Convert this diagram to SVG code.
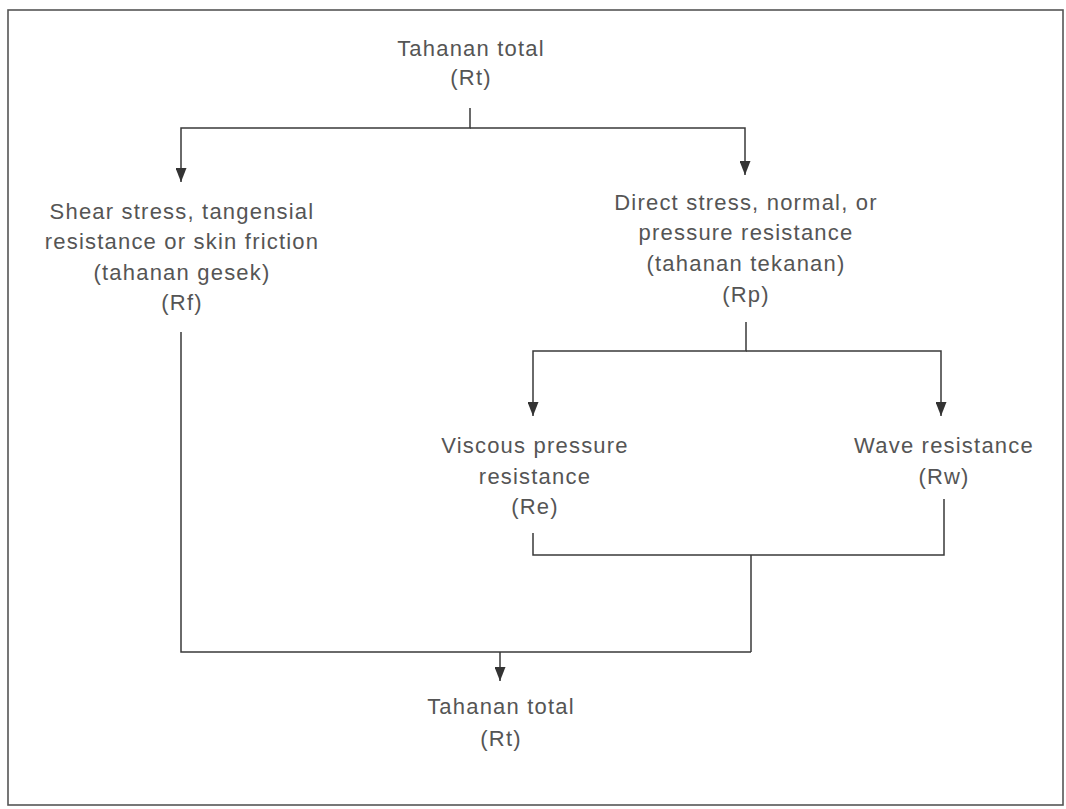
<svg xmlns="http://www.w3.org/2000/svg" width="1066" height="809" viewBox="0 0 1066 809">
<style>
  .t { font-family: "Liberation Sans", Arial, sans-serif; font-size: 22px; fill: #555; text-anchor: middle; letter-spacing: 1.2px; }
  .c { fill: none; stroke: #3a3a3a; stroke-width: 1.5; }
  .frame { fill: #fff; stroke: #555; stroke-width: 1.6; }
</style>
<defs>
  <marker id="arr" viewBox="0 0 14 11" refX="14" refY="5.5" markerWidth="14" markerHeight="11" markerUnits="userSpaceOnUse" orient="auto">
    <path d="M0,0 L14,5.5 L0,11 z" fill="#333"/>
  </marker>
</defs>
<rect class="frame" x="8" y="10" width="1055" height="795"/>
<g id="connectors">
  <path class="c" d="M470,108 V128 H181 V182" marker-end="url(#arr)"/>
  <path class="c" d="M470,128 H745 V175" marker-end="url(#arr)"/>
  <path class="c" d="M746,322 V351 H533 V416" marker-end="url(#arr)"/>
  <path class="c" d="M746,351 H941 V416" marker-end="url(#arr)"/>
  <path class="c" d="M533,533 V555 H944 V499"/>
  <path class="c" d="M751,555 V652"/>
  <path class="c" d="M181,332 V652 H751"/>
  <path class="c" d="M500,652 V681" marker-end="url(#arr)"/>
</g>
<g id="n-rt-top">
  <text class="t" x="471" y="56">Tahanan total</text>
  <text class="t" x="471" y="85">(Rt)</text>
</g>
<g id="n-rf">
  <text class="t" x="182" y="219">Shear stress, tangensial</text>
  <text class="t" x="182" y="249">resistance or skin friction</text>
  <text class="t" x="182" y="280">(tahanan gesek)</text>
  <text class="t" x="182" y="310">(Rf)</text>
</g>
<g id="n-rp">
  <text class="t" x="746" y="210">Direct stress, normal, or</text>
  <text class="t" x="746" y="240">pressure resistance</text>
  <text class="t" x="746" y="271">(tahanan tekanan)</text>
  <text class="t" x="746" y="302">(Rp)</text>
</g>
<g id="n-re">
  <text class="t" x="535" y="453">Viscous pressure</text>
  <text class="t" x="535" y="484">resistance</text>
  <text class="t" x="535" y="514">(Re)</text>
</g>
<g id="n-rw">
  <text class="t" x="944" y="453">Wave resistance</text>
  <text class="t" x="944" y="484">(Rw)</text>
</g>
<g id="n-rt-bottom">
  <text class="t" x="501" y="714">Tahanan total</text>
  <text class="t" x="501" y="746">(Rt)</text>
</g>
</svg>
